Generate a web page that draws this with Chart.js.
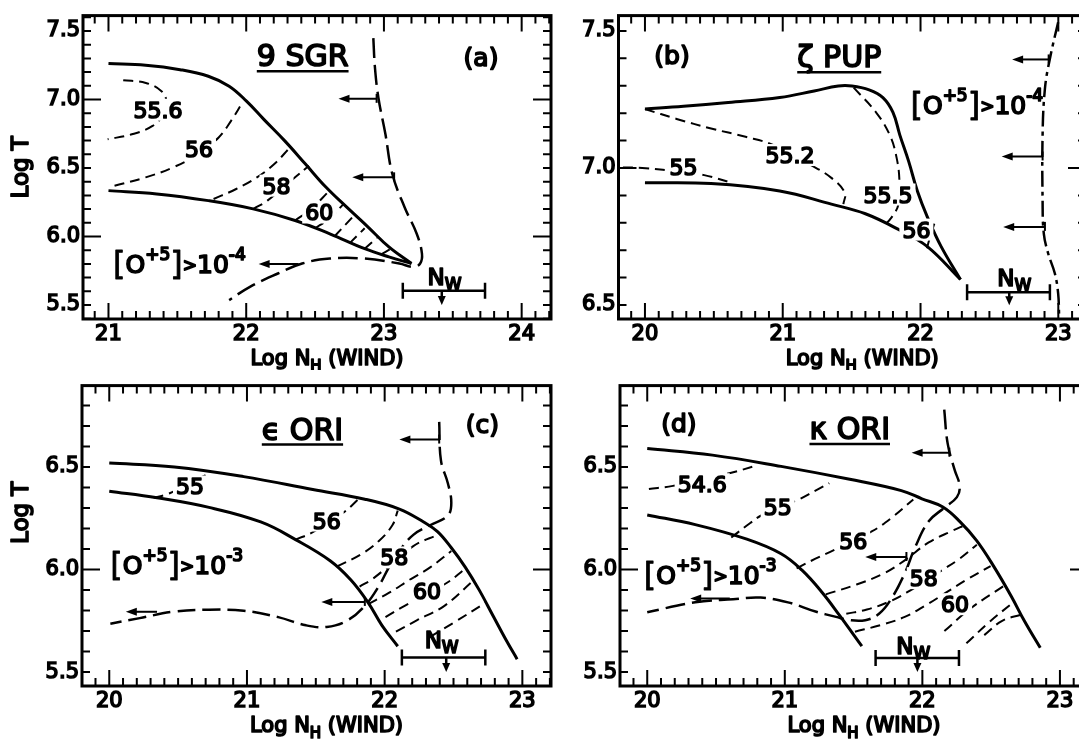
<!DOCTYPE html>
<html>
<head>
<meta charset="utf-8">
<script src="https://cdn.jsdelivr.net/npm/chart.js@4.4.0/dist/chart.umd.min.js"></script>
<style>
html, body { margin: 0; padding: 0; background: #fff; overflow: hidden; width: 1079px; height: 747px; }
canvas { position: absolute; }
</style>
</head>
<body>
<canvas id="pa" width="560" height="370" style="left:0;top:0"></canvas>
<canvas id="pb" width="530" height="370" style="left:560px;top:0"></canvas>
<canvas id="pc" width="560" height="377" style="left:0;top:370px"></canvas>
<canvas id="pd" width="530" height="377" style="left:560px;top:370px"></canvas>
<script>
// ---- data: [log N_H, log T] ----

// (a) 9 Sgr
const aUpper = [[21.0,7.262],[21.27,7.25],[21.52,7.218],[21.725,7.17],[21.876,7.097],[22.002,6.988],[22.128,6.855],[22.28,6.698],[22.43,6.529],[22.58,6.359],[22.73,6.214],[22.885,6.069],[23.036,5.924],[23.2,5.803]];
const aLower = [[21.0,6.335],[21.35,6.311],[21.725,6.262],[22.05,6.202],[22.355,6.117],[22.607,6.02],[22.86,5.911],[23.036,5.851],[23.2,5.803]];
const a556 = [[21.107,7.141],[21.271,7.121],[21.385,7.061],[21.42,6.988],[21.397,6.891],[21.32,6.807],[21.17,6.746],[20.994,6.71]];
const a56 = [[21.044,6.371],[21.27,6.432],[21.47,6.505],[21.65,6.602],[21.8,6.723],[21.89,6.844],[21.965,6.965]];
const a57 = [[21.763,6.274],[21.927,6.347],[22.078,6.432],[22.204,6.529],[22.317,6.649]];
const a58 = [[22.053,6.202],[22.154,6.262],[22.355,6.432],[22.456,6.516]];
const a59 = [[22.355,6.117],[22.47,6.2],[22.6,6.33]];
const a60 = [[22.5,6.06],[22.6,6.13],[22.71,6.24]];
const a61 = [[22.64,6.0],[22.78,6.15]];
const a62 = [[22.75,5.95],[22.86,6.06]];
const a63 = [[22.86,5.91],[22.95,5.99]];
const a64 = [[22.98,5.87],[23.05,5.91]];
const aOxygen = [[22.923,7.448],[22.935,7.23],[22.96,7.012],[23.011,6.746],[23.061,6.456],[23.15,6.214],[23.238,6.02],[23.276,5.875],[23.263,5.803],[23.213,5.778],[23.112,5.803],[22.86,5.839],[22.607,5.839],[22.406,5.803],[22.23,5.73],[22.027,5.633],[21.876,5.536]];

// (b) zeta Pup
const bUpper = [[20.0,7.215],[20.28,7.225],[20.604,7.239],[20.978,7.257],[21.228,7.281],[21.403,7.299],[21.502,7.299],[21.627,7.285],[21.727,7.257],[21.8,7.203],[21.85,7.12],[21.914,7.024],[21.977,6.916],[22.05,6.821],[22.15,6.713],[22.29,6.593]];
const bLower = [[20.0,6.946],[20.48,6.943],[20.978,6.916],[21.353,6.868],[21.6,6.833],[21.85,6.773],[22.05,6.713],[22.29,6.593]];
const b55 = [[19.84,7.002],[19.98,7.0],[20.28,6.985],[20.43,6.974],[20.63,6.946]];
const b552 = [[20.0,7.215],[20.23,7.179],[20.48,7.144],[20.73,7.114],[20.93,7.084],[21.2,7.012],[21.353,6.964],[21.45,6.91],[21.44,6.868]];
const b555 = [[21.515,7.293],[21.677,7.203],[21.777,7.12],[21.827,7.036],[21.847,6.952],[21.84,6.868],[21.79,6.82],[21.727,6.785]];
const b56 = [[22.1,6.797],[22.066,6.743],[22.04,6.695]];
const bOxygen = [[22.999,7.532],[22.939,7.399],[22.903,7.29],[22.886,7.122],[22.886,6.879],[22.895,6.76],[22.927,6.687],[22.975,6.615],[22.999,6.542],[23.006,6.459]];

// (c) epsilon Ori
const cUpper = [[20.0,6.519],[20.473,6.5],[20.976,6.453],[21.478,6.39],[21.856,6.343],[22.107,6.295],[22.283,6.232],[22.384,6.185],[22.484,6.106],[22.585,6.012],[22.685,5.902],[22.786,5.776],[22.887,5.65],[22.962,5.563]];
const cLower = [[20.0,6.382],[20.347,6.35],[20.724,6.303],[21.1,6.232],[21.353,6.146],[21.604,6.043],[21.755,5.949],[21.88,5.839],[21.98,5.728],[22.095,5.626]];
const c55 = [[20.322,6.35],[20.435,6.371],[20.649,6.442],[20.699,6.461]];
const c56 = [[21.353,6.146],[21.478,6.182],[21.705,6.28],[21.805,6.34]];
const c57 = [[21.654,6.015],[21.83,6.075],[21.956,6.138],[22.057,6.217],[22.095,6.287]];
const c58 = [[21.818,5.917],[21.918,5.957],[22.208,6.114],[22.396,6.172]];
const c59 = [[21.88,5.831],[22.03,5.886],[22.18,5.949],[22.333,6.012],[22.484,6.09]];
const c60 = [[22.006,5.768],[22.145,5.823],[22.447,5.933],[22.585,6.004]];
const c61 = [[22.082,5.697],[22.233,5.752],[22.434,5.823],[22.648,5.949]];
const c62 = [[22.333,5.673],[22.509,5.744],[22.736,5.839]];
const cOxygen = [[22.396,6.72],[22.409,6.531],[22.459,6.421],[22.484,6.326],[22.459,6.264],[22.333,6.217],[22.208,6.169],[22.107,6.091],[22.032,6.012],[21.956,5.917],[21.856,5.823],[21.73,5.752],[21.579,5.72],[21.428,5.728],[21.227,5.768],[20.976,5.799],[20.724,5.804],[20.473,5.795],[20.221,5.763],[20.008,5.736]];

// (d) kappa Ori
const dUpper = [[20.0,6.59],[20.474,6.558],[20.973,6.503],[21.472,6.44],[21.847,6.385],[21.997,6.345],[22.146,6.306],[22.271,6.235],[22.396,6.14],[22.521,6.013],[22.645,5.871],[22.745,5.745],[22.857,5.618]];
const dLower = [[20.0,6.266],[20.349,6.219],[20.724,6.148],[20.973,6.077],[21.123,5.998],[21.273,5.887],[21.398,5.776],[21.56,5.626]];
const d546 = [[20.012,6.393],[20.187,6.408],[20.4,6.44],[20.611,6.472],[20.774,6.503]];
const d55 = [[20.611,6.156],[20.749,6.227],[20.836,6.266],[21.086,6.337],[21.223,6.385],[21.323,6.421]];
const d56 = [[21.086,6.006],[21.223,6.053],[21.36,6.096],[21.635,6.187],[21.772,6.25],[21.934,6.342]];
const d57 = [[21.298,5.879],[21.522,5.927],[21.722,5.982],[21.872,6.045],[22.046,6.132],[22.221,6.19],[22.308,6.216]];
const d58 = [[21.447,5.784],[21.597,5.805],[21.747,5.84],[21.884,5.887],[22.146,5.998],[22.271,6.053],[22.396,6.121]];
const d59 = [[21.51,5.697],[21.697,5.729],[21.872,5.769],[22.021,5.824],[22.171,5.887],[22.321,5.95],[22.496,6.017]];
const d60 = [[22.16,5.7],[22.35,5.81],[22.587,5.918]];
const d61 = [[22.32,5.64],[22.48,5.74],[22.66,5.84]];
const d62 = [[22.45,5.68],[22.58,5.75],[22.72,5.78]];
const dOxygen = [[22.159,6.78],[22.184,6.614],[22.234,6.487],[22.271,6.408],[22.251,6.353],[22.159,6.301],[22.046,6.235],[21.947,6.108],[21.872,5.982],[21.772,5.855],[21.685,5.784],[21.585,5.753],[21.472,5.753],[21.373,5.769],[21.223,5.795],[21.023,5.84],[20.824,5.863],[20.624,5.855],[20.349,5.84],[20.0,5.792]];

// tick labels
const xTicksA = [21, 22, 23, 24];
const xTicksB = [20, 21, 22, 23];
const yTicksAB = [5.5, 6.0, 6.5, 7.0, 7.5];
const yTicksB = [6.5, 7.0, 7.5];
const yTicksCD = [5.5, 6.0, 6.5];

const FONT = 'DejaVu Sans';

function solid(d) {
    return { data: d.map(p => ({x: p[0], y: p[1]})), borderColor: '#000', borderWidth: 3, pointRadius: 0, tension: 0.4, showLine: true, fill: false };
}
function dashed(d) {
    return { data: d.map(p => ({x: p[0], y: p[1]})), borderColor: '#000', borderWidth: 2, borderDash: [10, 6], pointRadius: 0, tension: 0.4, showLine: true, fill: false };
}
function oxygen(d, dash) {
    return { data: d.map(p => ({x: p[0], y: p[1]})), borderColor: '#000', borderWidth: 2.5, borderDash: dash, pointRadius: 0, tension: 0.4, showLine: true, fill: false };
}

// draws text made of runs (sub/superscripts); a stroke gives the heavy pen look
function drawRuns(ctx, runs, x, y, align) {
    let w = 0;
    runs.forEach(r => {
        ctx.font = r.s + 'px "' + FONT + '"';
        r.w = ctx.measureText(r.t).width;
        w += r.w;
    });
    let cx = align === 'center' ? x - w / 2 : x;
    ctx.lineJoin = 'round';
    runs.forEach(r => {
        ctx.font = r.s + 'px "' + FONT + '"';
        ctx.lineWidth = r.thin ? 0.8 : 1.7;
        ctx.fillText(r.t, cx, y + (r.dy || 0));
        ctx.strokeText(r.t, cx, y + (r.dy || 0));
        cx += r.w;
    });
    return w;
}

function oxRuns(exp) {
    return [
        {t: '[', s: 32, dy: 1, thin: true},
        {t: 'O', s: 25},
        {t: '+5', s: 17, dy: -13},
        {t: ']', s: 32, dy: 1, thin: true},
        {t: '>', s: 17, dy: -2},
        {t: '10', s: 25},
        {t: exp, s: 17, dy: -13}
    ];
}

const deco = {
    id: 'deco',
    afterDatasetsDraw(chart, args, o) {
        const ctx = chart.ctx, xs = chart.scales.x, ys = chart.scales.y;
        const px = v => xs.getPixelForValue(v), py = v => ys.getPixelForValue(v);
        ctx.save();
        ctx.fillStyle = '#000';
        ctx.strokeStyle = '#000';
        ctx.textBaseline = 'alphabetic';
        ctx.textAlign = 'left';

        // arrows pointing to lower column density
        o.arrows.forEach(a => {
            const x0 = px(a[0]), x1 = px(a[1]), y = py(a[2]);
            ctx.lineWidth = 2;
            ctx.beginPath(); ctx.moveTo(x0, y); ctx.lineTo(x1 + 6, y); ctx.stroke();
            ctx.beginPath(); ctx.moveTo(x1, y); ctx.lineTo(x1 + 11, y - 4); ctx.lineTo(x1 + 11, y + 4); ctx.closePath(); ctx.fill();
            if (a[3] !== false) {
                ctx.beginPath(); ctx.moveTo(x0, y - 5); ctx.lineTo(x0, y + 4); ctx.stroke();
            }
        });

        // N_W range bar
        const nb = o.bar;
        const bx0 = px(nb.x0), bx1 = px(nb.x1), by = py(nb.y), bxa = px(nb.xa), bt = py(nb.tip);
        ctx.lineWidth = 2.5;
        ctx.beginPath();
        ctx.moveTo(bx0, by); ctx.lineTo(bx1, by);
        ctx.moveTo(bx0, by - 8); ctx.lineTo(bx0, by + 8);
        ctx.moveTo(bx1, by - 8); ctx.lineTo(bx1, by + 8);
        ctx.moveTo(bxa, by); ctx.lineTo(bxa, bt - 5);
        ctx.stroke();
        ctx.beginPath(); ctx.moveTo(bxa, bt); ctx.lineTo(bxa - 4, bt - 9); ctx.lineTo(bxa + 4, bt - 9); ctx.closePath(); ctx.fill();
        drawRuns(ctx, [{t: 'N', s: 23}, {t: 'W', s: 17, dy: 5}], px(nb.lx), py(nb.ly), 'center');

        // contour labels, on a white patch that breaks the dashed line
        o.labels.forEach(l => {
            ctx.font = '22px "' + FONT + '"';
            const w = ctx.measureText(l[0]).width;
            const x = px(l[1]), y = py(l[2]);
            ctx.fillStyle = '#fff';
            ctx.fillRect(x - w / 2 - 3, y - 19, w + 6, 22);
            ctx.fillStyle = '#000';
            drawRuns(ctx, [{t: l[0], s: 22}], x, y, 'center');
        });

        // star name and panel letter
        const sx = px(o.starAt[0]), sy = py(o.starAt[1]);
        const nw = drawRuns(ctx, [{t: o.star, s: 30}], sx, sy, 'center');
        ctx.lineWidth = 2.5;
        ctx.beginPath();
        ctx.moveTo(sx - nw / 2, sy + 5);
        ctx.lineTo(sx + nw / 2, sy + 5);
        ctx.stroke();
        drawRuns(ctx, [{t: o.letter, s: 25}], px(o.letterAt[0]), py(o.letterAt[1]), 'center');

        // oxygen abundance condition
        drawRuns(ctx, oxRuns(o.oxExp), px(o.oxAt[0]), py(o.oxAt[1]), 'left');
        ctx.restore();
    },
    afterDraw(chart, args, o) {
        const ctx = chart.ctx, xs = chart.scales.x, ys = chart.scales.y;
        const {left, right, top, bottom} = chart.chartArea;
        ctx.save();
        ctx.strokeStyle = '#000';
        ctx.lineWidth = 2;
        ctx.beginPath();
        for (let i = Math.ceil(xs.min * 10 - 1e-6); i <= Math.floor(xs.max * 10 + 1e-6); i++) {
            const x = xs.getPixelForValue(i / 10), L = i % 10 === 0 ? 16 : 8;
            ctx.moveTo(x, bottom); ctx.lineTo(x, bottom - L);
            ctx.moveTo(x, top); ctx.lineTo(x, top + L);
        }
        for (let i = Math.ceil(ys.min * 10 - 1e-6); i <= Math.floor(ys.max * 10 + 1e-6); i++) {
            const y = ys.getPixelForValue(i / 10), L = i % 10 === 0 ? 18 : 8;
            ctx.moveTo(left, y); ctx.lineTo(left + L, y);
            ctx.moveTo(right, y); ctx.lineTo(right - L, y);
        }
        ctx.stroke();
        ctx.lineWidth = 3;
        ctx.strokeRect(left, top, right - left, bottom - top);

        // axis titles
        ctx.fillStyle = '#000';
        ctx.textBaseline = 'alphabetic';
        drawRuns(ctx, [{t: 'Log N', s: 21}, {t: 'H', s: 15, dy: 6}, {t: ' (WIND)', s: 21}], (left + right) / 2 + 10, bottom + 46, 'center');
        if (o.yTitle) {
            ctx.save();
            ctx.translate(28, (top + bottom) / 2 + o.yTitleDy);
            ctx.rotate(-Math.PI / 2);
            drawRuns(ctx, [{t: 'Log T', s: 23}], 0, 0, 'center');
            ctx.restore();
        }
        ctx.restore();
    }
};

const tickFont = { family: FONT, size: 21 };

function makePanel(id, p) {
    return new Chart(document.getElementById(id), {
        type: 'scatter',
        data: { datasets: p.datasets },
        options: {
            responsive: false,
            animation: false,
            events: [],
            layout: { padding: { left: 0, top: p.padTop, right: p.padRight, bottom: 0 } },
            plugins: { legend: { display: false }, tooltip: { enabled: false }, deco: p.deco },
            scales: {
                x: {
                    type: 'linear', min: p.xMin, max: p.xMax,
                    afterBuildTicks: s => { s.ticks = p.xTicks.map(v => ({value: v})); },
                    afterFit: s => { s.height = p.xAxisH; },
                    grid: { display: false, drawTicks: false },
                    border: { display: false },
                    ticks: { color: '#000', textStrokeColor: '#000', textStrokeWidth: 1.6, padding: 3, maxRotation: 0, autoSkip: false, font: tickFont, callback: v => String(v) }
                },
                y: {
                    type: 'linear', min: p.yMin, max: p.yMax,
                    afterBuildTicks: s => { s.ticks = p.yTicks.map(v => ({value: v})); },
                    afterFit: s => { s.width = p.yAxisW; },
                    grid: { display: false, drawTicks: false },
                    border: { display: false },
                    ticks: { color: '#000', textStrokeColor: '#000', textStrokeWidth: 1.6, padding: 3, autoSkip: false, font: tickFont, callback: v => Number(v).toFixed(1) }
                }
            }
        },
        plugins: [deco]
    });
}

makePanel('pa', {
    xMin: 20.815, xMax: 24.213, yMin: 5.398, yMax: 7.6125,
    xTicks: xTicksA, yTicks: yTicksAB,
    yAxisW: 83, xAxisH: 51, padTop: 14, padRight: 9,
    datasets: [solid(aUpper), solid(aLower), dashed(a556), dashed(a56), dashed(a57), dashed(a58), dashed(a59), dashed(a60), dashed(a61), dashed(a62), dashed(a63), dashed(a64), oxygen(aOxygen, [20, 7])],
    deco: {
        arrows: [[22.947, 22.67, 7.005], [23.074, 22.77, 6.432], [22.38, 22.09, 5.80, false]],
        bar: {x0: 23.137, x1: 23.734, y: 5.604, xa: 23.42, tip: 5.5, lx: 23.44, ly: 5.645},
        labels: [['55.6', 21.36, 6.867], ['56', 21.657, 6.577], ['58', 22.22, 6.313], ['60', 22.53, 6.117]],
        star: '9 SGR', starAt: [22.41, 7.242],
        letter: '(a)', letterAt: [23.705, 7.242],
        oxExp: '-4', oxAt: [21.033, 5.732],
        yTitle: true, yTitleDy: 0
    }
});

makePanel('pb', {
    xMin: 19.808, xMax: 23.201, yMin: 6.449, yMax: 7.556,
    xTicks: xTicksB, yTicks: yTicksB,
    yAxisW: 58.5, xAxisH: 51, padTop: 14, padRight: 4,
    datasets: [solid(bUpper), solid(bLower), dashed(b55), dashed(b552), dashed(b555), dashed(b56), oxygen(bOxygen, [16, 5, 4, 5])],
    deco: {
        arrows: [[22.93, 22.665, 7.396], [22.886, 22.589, 7.042], [22.903, 22.6, 6.785]],
        bar: {x0: 22.338, x1: 22.939, y: 6.547, xa: 22.644, tip: 6.499, lx: 22.68, ly: 6.571},
        labels: [['55', 20.28, 6.976], ['55.2', 21.053, 7.018], ['55.5', 21.764, 6.874], ['56', 21.97, 6.746]],
        star: 'ζ PUP', starAt: [21.41, 7.368],
        letter: '(b)', letterAt: [20.196, 7.38],
        oxExp: '-4', oxAt: [21.927, 7.198],
        yTitle: false
    }
});

makePanel('pc', {
    xMin: 19.802, xMax: 23.208, yMin: 5.432, yMax: 6.897,
    xTicks: xTicksB, yTicks: yTicksCD,
    yAxisW: 82, xAxisH: 61, padTop: 6, padRight: 9,
    datasets: [solid(cUpper), solid(cLower), dashed(c55), dashed(c56), dashed(c57), dashed(c58), dashed(c59), dashed(c60), dashed(c61), dashed(c62), oxygen(cOxygen, [18, 7])],
    deco: {
        arrows: [[22.396, 22.107, 6.634], [21.856, 21.54, 5.842], [20.347, 20.12, 5.794, false]],
        bar: {x0: 22.125, x1: 22.731, y: 5.571, xa: 22.447, tip: 5.5, lx: 22.414, ly: 5.618},
        labels: [['55', 20.586, 6.366], ['56', 21.579, 6.2], ['58', 22.07, 6.02], ['60', 22.308, 5.854]],
        star: 'ϵ ORI', starAt: [21.403, 6.634],
        letter: '(c)', letterAt: [22.71, 6.665],
        oxExp: '-3', oxAt: [20.008, 5.98],
        yTitle: true, yTitleDy: -23
    }
});

makePanel('pd', {
    xMin: 19.802, xMax: 23.204, yMin: 5.432, yMax: 6.897,
    xTicks: xTicksB, yTicks: yTicksCD,
    yAxisW: 60, xAxisH: 61, padTop: 6, padRight: 2,
    datasets: [solid(dUpper), solid(dLower), dashed(d546), dashed(d55), dashed(d56), dashed(d57), dashed(d58), dashed(d59), dashed(d60), dashed(d61), dashed(d62), oxygen(dOxygen, [20, 7])],
    deco: {
        arrows: [[22.196, 21.922, 6.57], [21.884, 21.585, 6.061], [20.6, 20.312, 5.859, false]],
        bar: {x0: 21.66, x1: 22.266, y: 5.568, xa: 21.964, tip: 5.5, lx: 21.934, ly: 5.587},
        labels: [['54.6', 20.4, 6.377], ['55', 20.948, 6.266], ['56', 21.497, 6.1], ['58', 22.01, 5.919], ['60', 22.238, 5.792]],
        star: 'κ ORI', starAt: [21.472, 6.637],
        letter: '(d)', letterAt: [20.23, 6.669],
        oxExp: '-3', oxAt: [19.975, 5.931],
        yTitle: false
    }
});
</script>
</body>
</html>
